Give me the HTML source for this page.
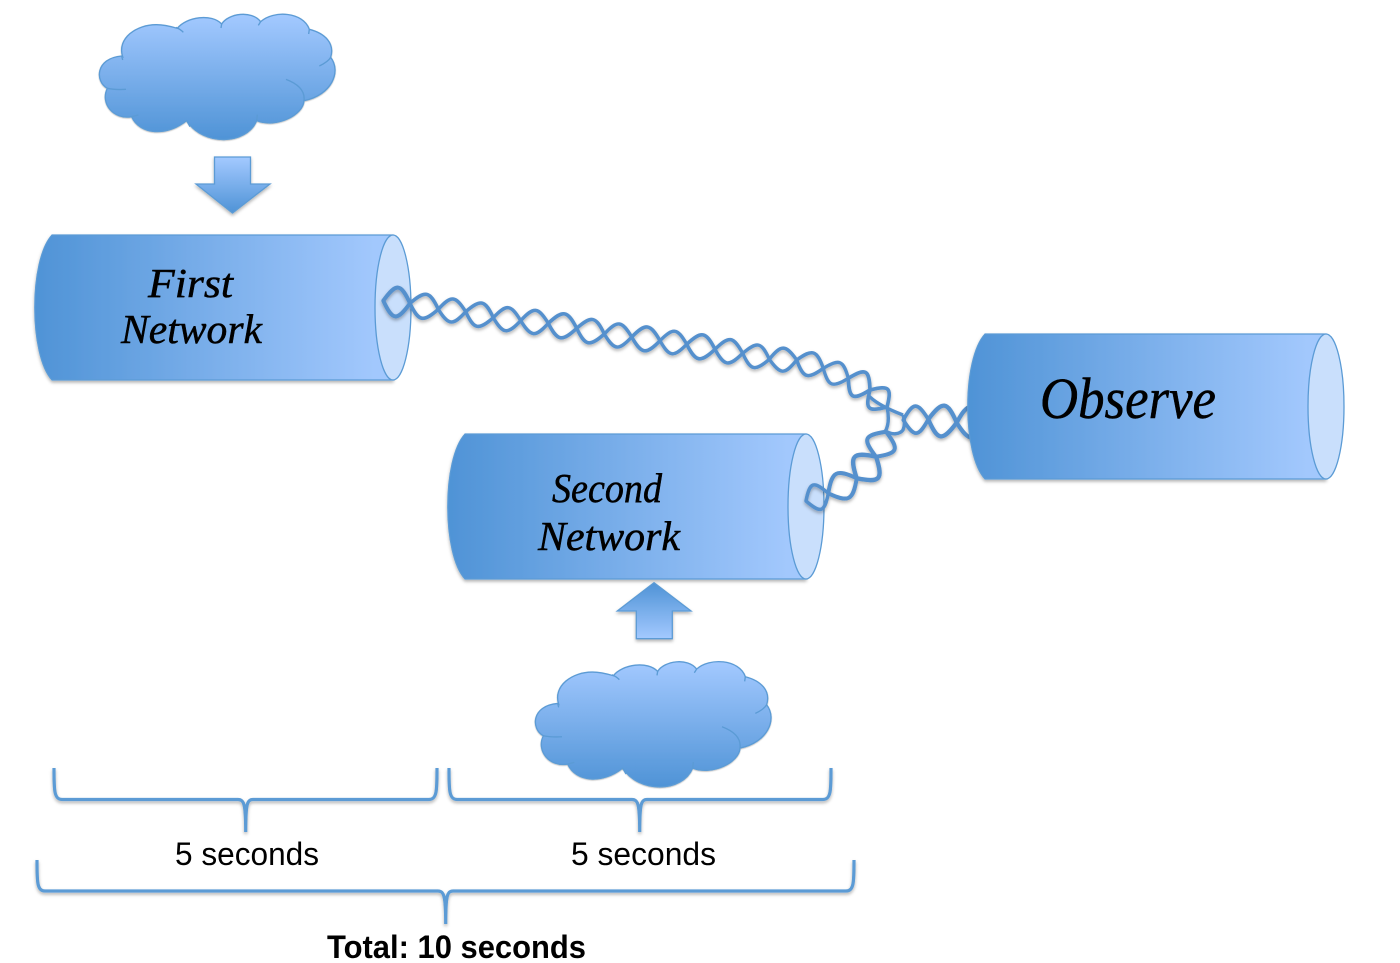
<!DOCTYPE html>
<html lang="en">
<head>
<meta charset="utf-8">
<title>Network diagram</title>
<style>
html,body{margin:0;padding:0;background:#fff;width:1400px;height:963px;overflow:hidden}
svg{display:block}
.ch{font-family:"Liberation Serif",serif;font-style:italic;fill:#000;stroke:#000;stroke-width:.5px}
.sa{font-family:"Liberation Sans",sans-serif;fill:#000}
</style>
</head>
<body>
<svg xmlns="http://www.w3.org/2000/svg" width="1400" height="963" viewBox="0 0 1400 963">
<defs>
<linearGradient id="h" x1="0" y1="0" x2="1" y2="0"><stop offset="0" stop-color="#4f93d6"/><stop offset=".95" stop-color="#a2c8fd"/></linearGradient>
<linearGradient id="v" x1="0" y1="0" x2="0" y2="1"><stop offset="0" stop-color="#a3c9ff"/><stop offset="1" stop-color="#4f93d6"/></linearGradient>
<linearGradient id="u" x1="0" y1="0" x2="0" y2="1"><stop offset="0" stop-color="#4f93d6"/><stop offset="1" stop-color="#a3c9ff"/></linearGradient>
<filter id="s" x="-10%" y="-10%" width="120%" height="125%"><feDropShadow dx="0" dy="2" stdDeviation="1.5" flood-color="#000" flood-opacity=".3"/></filter>
<path id="e" d="M0,0C.42,-.56 .58,-.56 1,0C.58,.56 .42,.56 0,0Z" fill="none" stroke="#5590cd" stroke-width=".125" stroke-linejoin="round"/>
<path id="f" d="M0,0C.42,-.72 .58,-.72 1,0C.58,.72 .42,.72 0,0Z" fill="none" stroke="#5590cd" stroke-width=".15" stroke-linejoin="round"/>
<g id="cyl">
<path d="M52,235H393V380H52C29,355 29,260 52,235Z" fill="url(#h)" stroke="#5b9bd5" stroke-width="1.2" filter="url(#s)"/>
<ellipse cx="393" cy="307.5" rx="18" ry="72.5" fill="#c9dffc" stroke="#5b9bd5" stroke-width="1.3"/>
</g>
<g id="cloud">
<path transform="scale(.33333)" d="M308,170C290,115 350,73 410,74C435,74 455,80 472,85C500,50 575,40 605,72C625,40 695,30 722,65C760,30 850,35 868,88C915,100 945,130 932,172C965,215 935,285 852,302C850,345 770,385 710,362C680,435 550,440 500,362C440,410 360,405 335,350C280,360 240,310 262,265C225,245 225,175 305,168Z" fill="url(#v)" stroke="#5b9bd5" stroke-width="4" filter="url(#s)"/>
<path transform="scale(.33333)" d="M468,82Q482,88 490,97M605,72L603,84M722,65L715,76M868,88L866,102M932,172Q925,185 898,198M852,302C856,270 830,250 798,238M710,362L712,344M500,362L510,380M335,350L355,345M262,265Q285,270 318,268M305,168L308,180" fill="none" stroke="#5b9bd5" stroke-width="4"/>
</g>
</defs>

<use href="#cloud" x="20" y="0"/>
<path d="M214.5,157H250.5V184H270L232.5,213L196,184H214.5Z" fill="url(#v)" stroke="#5b9bd5" stroke-width="1.3" filter="url(#s)"/>

<use href="#cyl"/>
<use href="#cyl" transform="translate(413 199)"/>

<g filter="url(#s)">
<use href="#f" transform="matrix(26.7,2.6,-2.6,26.7,383.3,300.7)"/>
<use href="#e" transform="matrix(28.3,6,-6,28.3,410,303.3)"/>
<use href="#e" transform="matrix(27.4,2.4,-2.4,27.4,438.3,309.3)"/>
<use href="#e" transform="matrix(27.6,6,-6,27.6,465.7,311.7)"/>
<use href="#e" transform="matrix(27.4,3,-3,27.4,493.3,317.7)"/>
<use href="#e" transform="matrix(27.6,2.6,-2.6,27.6,520.7,320.7)"/>
<use href="#e" transform="matrix(28.4,5,-5,28.4,548.3,323.3)"/>
<use href="#e" transform="matrix(27.6,5.7,-5.7,27.6,576.7,328.3)"/>
<use href="#e" transform="matrix(27.4,3,-3,27.4,604.3,334)"/>
<use href="#e" transform="matrix(28.3,3.7,-3.7,28.3,631.7,337)"/>
<use href="#e" transform="matrix(26.7,3.6,-3.6,26.7,660,340.7)"/>
<use href="#e" transform="matrix(28.3,5,-5,28.3,686.7,344.3)"/>
<use href="#e" transform="matrix(27.7,4,-4,27.7,715,349.3)"/>
<use href="#e" transform="matrix(26.6,6,-6,26.6,742.7,353.3)"/>
<use href="#e" transform="matrix(27.4,.7,-.7,27.4,769.3,359.3)"/>
<use href="#e" transform="matrix(26.6,8.3,-8.3,26.6,796.7,360)"/>
<use href="#e" transform="matrix(25,10,-10,25,823.3,368.3)"/>
<use href="#f" transform="matrix(21.7,11.7,-11.7,21.7,848.3,378.3)"/>
<use href="#f" transform="matrix(17,17,-17,17,870,390)"/>
<path d="M887,407C889,416 889,425 885,432M868,395C875,403 890,410 903,415" fill="none" stroke="#5590cd" stroke-width="3.4"/>

<use href="#f" transform="matrix(22.3,-7.7,7.7,22.3,806,501)"/>
<use href="#e" transform="matrix(28.4,-15,15,28.4,828.3,493.3)"/>
<use href="#f" transform="matrix(19.3,-21.7,21.7,19.3,856.7,478.3)"/>
<use href="#f" transform="matrix(10,-25,25,10,876,456.7)"/>
<path d="M884,430C892,436 900,434 903,430C905,425 905,420 903,415" fill="none" stroke="#5590cd" stroke-width="3.4"/>

<use href="#f" transform="matrix(25,-.7,.7,25,903.3,420)"/>
<use href="#f" transform="matrix(28.4,3.4,-3.4,28.4,928.3,419.3)"/>
<use href="#f" transform="matrix(28,-1,1,28,956.7,422.7)"/>
</g>

<use href="#cyl" transform="translate(933 99)"/>

<text class="ch" x="148" y="297" font-size="41" textLength="85" lengthAdjust="spacingAndGlyphs">First</text>
<text class="ch" x="121" y="343" font-size="41" textLength="141" lengthAdjust="spacingAndGlyphs">Network</text>
<text class="ch" x="552" y="502" font-size="41" textLength="110" lengthAdjust="spacingAndGlyphs">Second</text>
<text class="ch" x="538" y="550" font-size="41" textLength="142" lengthAdjust="spacingAndGlyphs">Network</text>
<text class="ch" x="1040" y="418" font-size="58" textLength="176" lengthAdjust="spacingAndGlyphs">Observe</text>

<path d="M654,582.7L691,611H672.3V638.7H636.3V611H617.3Z" fill="url(#u)" stroke="#5b9bd5" stroke-width="1.3" filter="url(#s)"/>
<use href="#cloud" x="456" y="647.4"/>

<g fill="none" stroke="#5b9bd5" stroke-width="3.2" filter="url(#s)">
<path d="M54,768C54,790 54,799.5 62,799.5H238C244,799.5 245.7,804 245.7,832C245.7,804 247,799.5 253,799.5H429C437,799.5 437,790 437,768"/>
<path d="M449,768C449,790 449,799.5 457,799.5H632C638,799.5 639.7,804 639.7,832C639.7,804 641,799.5 647,799.5H823C831,799.5 831,790 831,768"/>
<path d="M37,860C37,882 37,891 45,891H438C444,891 445.7,896 445.7,924C445.7,896 447,891 453,891H846C854,891 854,882 854,860"/>
</g>

<text class="sa" x="175" y="865" font-size="32" textLength="144" lengthAdjust="spacingAndGlyphs">5 seconds</text>
<text class="sa" x="571" y="865" font-size="32" textLength="145" lengthAdjust="spacingAndGlyphs">5 seconds</text>
<text class="sa" x="327" y="958" font-size="32" font-weight="bold" textLength="259" lengthAdjust="spacingAndGlyphs">Total: 10 seconds</text>
</svg>
</body>
</html>
